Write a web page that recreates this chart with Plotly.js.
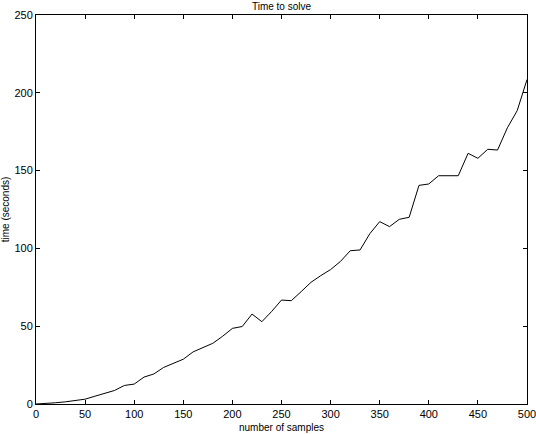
<!DOCTYPE html>
<html>
<head>
<meta charset="utf-8">
<script src="https://cdn.plot.ly/plotly-3.0.1.min.js"></script>
<style>
  html, body { margin: 0; padding: 0; background: #fff; }
  #plot { width: 536px; height: 434px; }
</style>
</head>
<body>
<div id="plot"></div>
<script>
// number of samples vs solve time
const samples = [0, 10, 20, 30, 40, 50, 60, 70, 80, 90,
  100, 110, 120, 130, 140, 150, 160, 170, 180, 190,
  200, 210, 220, 230, 240, 250, 260, 270, 280, 290,
  300, 310, 320, 330, 340, 350, 360, 370, 380, 390,
  400, 410, 420, 430, 440, 450, 460, 470, 480, 490, 500];
const seconds = [0, 0.3, 0.8, 1.4, 2.2, 3.1, 5.0, 6.7, 8.7, 11.9,
  12.8, 17.3, 19.3, 23.5, 26.2, 28.8, 33.5, 36.2, 39.0, 43.5,
  48.6, 49.8, 57.8, 52.9, 59.5, 66.8, 66.4, 72.2, 78.2, 82.5,
  86.4, 91.6, 98.5, 99.0, 109.5, 117.2, 114.0, 118.7, 120.0, 140.5,
  141.4, 146.7, 146.7, 146.7, 161.1, 157.9, 163.7, 163.2, 177.5, 188.5, 208.5];

const xTicks = [0, 50, 100, 150, 200, 250, 300, 350, 400, 450, 500];
const yTicks = [0, 50, 100, 150, 200, 250];

const FONT = { family: 'Liberation Sans, Arial, sans-serif', size: 10, color: '#000' };

const trace = {
  x: samples,
  y: seconds,
  type: 'scatter',
  mode: 'lines',
  line: { color: '#000', width: 1 },
  hoverinfo: 'skip',
};

const axisBase = {
  showgrid: false,
  zeroline: false,
  showline: true,
  linecolor: '#000',
  linewidth: 1,
  mirror: 'ticks',
  ticks: 'inside',
  ticklen: 4,
  tickcolor: '#000',
  tickwidth: 1,
  tickfont: { ...FONT, size: 11 },
  ticklabeloverflow: 'allow',
};

const layout = {
  width: 536,
  height: 434,
  margin: { l: 36, r: 9, t: 15, b: 30 },
  paper_bgcolor: '#fff',
  plot_bgcolor: '#fff',
  showlegend: false,
  font: FONT,
  title: {
    text: 'Time to solve',
    font: { ...FONT, size: 10 },
    xref: 'paper',
    x: 0.5,
    yref: 'container',
    y: 1 - 6 / 434,
    yanchor: 'middle',
  },
  xaxis: {
    ...axisBase,
    range: [0, 500],
    tickvals: xTicks,
    title: { text: 'number of samples', font: { ...FONT, size: 10 }, standoff: 4 },
  },
  yaxis: {
    ...axisBase,
    range: [0, 250],
    tickvals: yTicks,
    title: { text: 'time (seconds)', font: { ...FONT, size: 10 }, standoff: 2 },
  },
};

Plotly.newPlot('plot', [trace], layout, { displayModeBar: false, staticPlot: true });
</script>
</body>
</html>
